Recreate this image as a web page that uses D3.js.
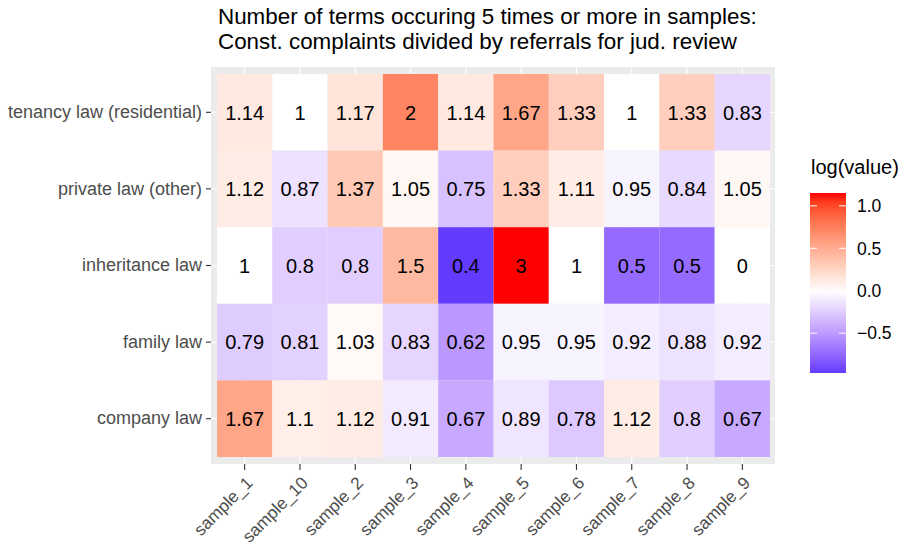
<!doctype html>
<html lang="en">
<head>
    <meta charset="UTF-8" />
    <title>Terms heatmap</title>
    <script src="https://d3js.org/d3.v7.min.js"></script>
    <style>
        body, html {
            margin: 0;
            padding: 0;
            background: #fff;
            overflow: hidden;
        }
        svg {
            display: block;
            font-family: "Liberation Sans", Arial, Helvetica, sans-serif;
        }
    </style>
</head>
<body>
    <svg id="chart" width="905" height="548"></svg>

    <script>
        // data
        const samples = ["sample_1", "sample_10", "sample_2", "sample_3", "sample_4",
                         "sample_5", "sample_6", "sample_7", "sample_8", "sample_9"];
        const areas = ["tenancy law (residential)", "private law (other)", "inheritance law",
                       "family law", "company law"];

        const tenancy     = [1.14, 1, 1.17, 2, 1.14, 1.67, 1.33, 1, 1.33, 0.83];
        const privateLaw  = [1.12, 0.87, 1.37, 1.05, 0.75, 1.33, 1.11, 0.95, 0.84, 1.05];
        const inheritance = [1, 0.8, 0.8, 1.5, 0.4, 3, 1, 0.5, 0.5, 0];
        const family      = [0.79, 0.81, 1.03, 0.83, 0.62, 0.95, 0.95, 0.92, 0.88, 0.92];
        const company     = [1.67, 1.1, 1.12, 0.91, 0.67, 0.89, 0.78, 1.12, 0.8, 0.67];

        const legendBreaks = [-0.5, 0, 0.5, 1];

        const rows = [tenancy, privateLaw, inheritance, family, company];
        const cells = [];
        rows.forEach((vals, i) => {
            vals.forEach((v, j) => {
                cells.push({ area: areas[i], sample: samples[j], value: v, lv: Math.log(v) });
            });
        });

        const svg = d3.select("#chart");

        // panel
        const panel = { x0: 211, x1: 775, y0: 67, y1: 464 };
        const x = d3.scaleBand().domain(samples).range([217, 770]);
        const y = d3.scaleBand().domain(areas).range([74, 457]);

        const finite = cells.map(d => d.lv).filter(isFinite);
        const lmin = d3.min(finite), lmax = d3.max(finite);
        const half = Math.max(Math.abs(lmin), Math.abs(lmax));
        const color = d3.scaleLinear()
            .domain([-half, 0, half])
            .range(["blue", "white", "red"])
            .interpolate(d3.interpolateLab);
        const fillOf = d => isFinite(d.lv) ? color(d.lv) : "white";

        svg.append("rect")
            .attr("x", panel.x0).attr("y", panel.y0)
            .attr("width", panel.x1 - panel.x0).attr("height", panel.y1 - panel.y0)
            .attr("fill", "#EBEBEB");

        // grid lines
        svg.append("g").selectAll("line").data(samples).join("line")
            .attr("x1", d => x(d) + x.bandwidth() / 2).attr("x2", d => x(d) + x.bandwidth() / 2)
            .attr("y1", panel.y0).attr("y2", panel.y1)
            .attr("stroke", "#fff").attr("stroke-width", 1.1);
        svg.append("g").selectAll("line").data(areas).join("line")
            .attr("y1", d => y(d) + y.bandwidth() / 2).attr("y2", d => y(d) + y.bandwidth() / 2)
            .attr("x1", panel.x0).attr("x2", panel.x1)
            .attr("stroke", "#fff").attr("stroke-width", 1.1);

        // tiles
        svg.append("g").selectAll("rect").data(cells).join("rect")
            .attr("x", d => x(d.sample))
            .attr("y", d => y(d.area))
            .attr("width", x.bandwidth())
            .attr("height", y.bandwidth())
            .attr("fill", fillOf);

        svg.append("g").selectAll("text").data(cells).join("text")
            .attr("x", d => x(d.sample) + x.bandwidth() / 2)
            .attr("y", d => y(d.area) + y.bandwidth() / 2)
            .attr("dy", "0.36em")
            .attr("text-anchor", "middle")
            .attr("font-size", 20)
            .attr("fill", "#000")
            .text(d => d.value);

        // axes
        const yAxis = svg.append("g")
            .attr("transform", `translate(${panel.x0},0)`)
            .call(d3.axisLeft(y).tickSize(5).tickPadding(4));
        const xAxis = svg.append("g")
            .attr("transform", `translate(0,${panel.y1})`)
            .call(d3.axisBottom(x).tickSize(6).tickPadding(4));
        [xAxis, yAxis].forEach(g => {
            g.select(".domain").remove();
            g.selectAll(".tick line").attr("stroke", "#333").attr("stroke-width", 1.1);
            g.selectAll(".tick text")
                .attr("fill", "#4D4D4D")
                .attr("font-size", 18)
                .attr("font-family", "Liberation Sans, Arial, sans-serif");
        });
        xAxis.selectAll(".tick text")
            .attr("font-size", 17.2)
            .attr("text-anchor", "end")
            .attr("y", 0).attr("dy", 0)
            .attr("transform", "translate(9,20) rotate(-45)");

        // title
        const title = svg.append("text")
            .attr("x", 218).attr("y", 24)
            .attr("font-size", 22.4).attr("fill", "#000");
        title.append("tspan").attr("x", 218).text("Number of terms occuring 5 times or more in samples:");
        title.append("tspan").attr("x", 218).attr("dy", 25).text("Const. complaints divided by referrals for jud. review");

        // legend
        const barTop = 193, barH = 180, barX = 810, barW = 36;
        const inset = barH / 40;
        const ly = d3.scaleLinear().domain([lmin, lmax]).range([barTop + barH - inset, barTop + inset]);

        const grad = svg.append("defs").append("linearGradient")
            .attr("id", "lg").attr("x1", 0).attr("x2", 0).attr("y1", 1).attr("y2", 0);
        d3.range(0, 1.0001, 0.05).forEach(t => {
            const v = lmin + t * (lmax - lmin);
            grad.append("stop").attr("offset", t).attr("stop-color", color(v));
        });

        svg.append("text")
            .attr("x", 811).attr("y", 174)
            .attr("font-size", 20).attr("fill", "#000")
            .text("log(value)");

        svg.append("rect")
            .attr("x", barX).attr("y", barTop)
            .attr("width", barW).attr("height", barH)
            .attr("fill", "url(#lg)");

        const lg = svg.append("g");
        lg.selectAll("line.l").data(legendBreaks).join("line")
            .attr("x1", barX).attr("x2", barX + 7)
            .attr("y1", d => ly(d)).attr("y2", d => ly(d))
            .attr("stroke", "#fff").attr("stroke-width", 1);
        lg.selectAll("line.r").data(legendBreaks).join("line")
            .attr("x1", barX + barW - 7).attr("x2", barX + barW)
            .attr("y1", d => ly(d)).attr("y2", d => ly(d))
            .attr("stroke", "#fff").attr("stroke-width", 1);
        lg.selectAll("text").data(legendBreaks).join("text")
            .attr("x", 857)
            .attr("y", d => ly(d))
            .attr("dy", "0.36em")
            .attr("font-size", 17.5)
            .attr("fill", "#000")
            .text(d => d3.format(".1f")(d).replace("-", "\u2212"));
    </script>
</body>
</html>
